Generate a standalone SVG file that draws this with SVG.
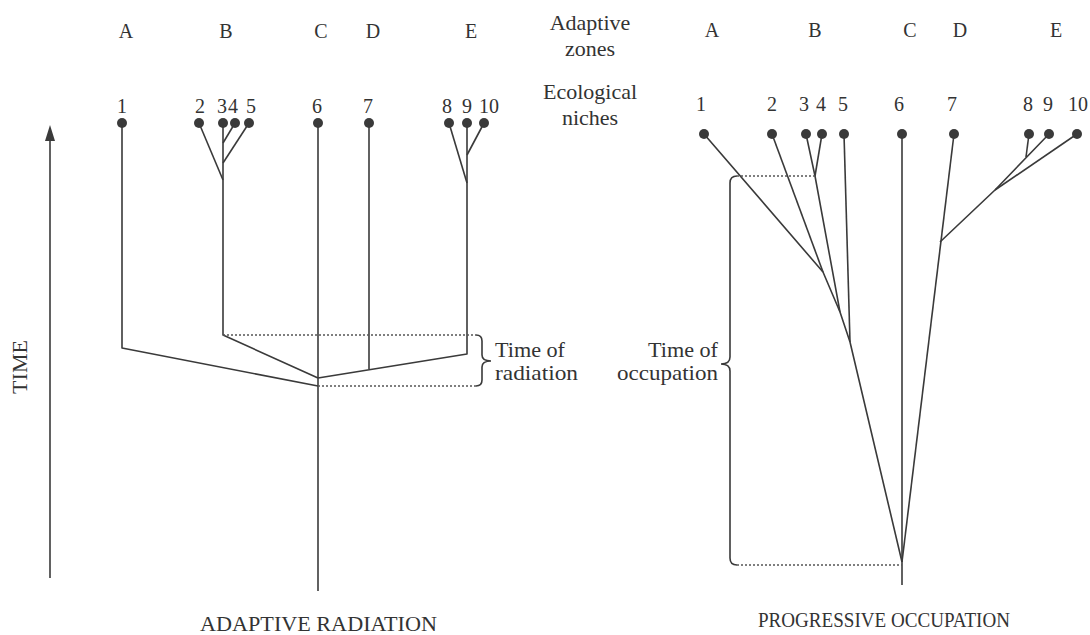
<svg xmlns="http://www.w3.org/2000/svg" width="1090" height="635" viewBox="0 0 1090 635">
<style>
text{font-family:"Liberation Serif","Times New Roman",serif;fill:#333;font-size:20px}
.big{font-size:22px}
.ln{fill:none;stroke:#3a3a3a;stroke-width:1.6;stroke-linejoin:round}
.dot{fill:#3a3a3a}
.dash{fill:none;stroke:#555;stroke-width:1.3;stroke-dasharray:2 2}
.br{fill:none;stroke:#3a3a3a;stroke-width:1.6}
.mid{text-anchor:middle}
</style>
<rect width="1090" height="635" fill="#fff"/>

<g id="time-axis">
<line x1="50" y1="578" x2="50" y2="140" class="ln"/>
<path d="M50 125 L55 141 L45 141 Z" fill="#3a3a3a"/>
<text transform="translate(27,367) rotate(-90)" class="mid big">TIME</text>
</g>

<g id="legend">
<text x="590" y="30" class="mid big">Adaptive</text>
<text x="590" y="56" class="mid big">zones</text>
<text x="590" y="99" class="mid big">Ecological</text>
<text x="590" y="125" class="mid big">niches</text>
</g>

<g id="left-zones">
<text x="126" y="38" class="mid">A</text>
<text x="226" y="38" class="mid">B</text>
<text x="321" y="38" class="mid">C</text>
<text x="373" y="38" class="mid">D</text>
<text x="471" y="38" class="mid">E</text>
</g>
<g id="left-niches">
<text x="122" y="113" class="mid">1</text>
<text x="200" y="113" class="mid">2</text>
<text x="222" y="113" class="mid">3</text>
<text x="233" y="113" class="mid">4</text>
<text x="251" y="113" class="mid">5</text>
<text x="317" y="113" class="mid">6</text>
<text x="368" y="113" class="mid">7</text>
<text x="447" y="113" class="mid">8</text>
<text x="467" y="113" class="mid">9</text>
<text x="489" y="113" class="mid">10</text>
<circle cx="122" cy="123" r="5" class="dot"/>
<circle cx="199" cy="123" r="5" class="dot"/>
<circle cx="223" cy="123" r="5" class="dot"/>
<circle cx="235" cy="123" r="5" class="dot"/>
<circle cx="249" cy="123" r="5" class="dot"/>
<circle cx="318" cy="123" r="5" class="dot"/>
<circle cx="369" cy="123" r="5" class="dot"/>
<circle cx="449" cy="123" r="5" class="dot"/>
<circle cx="467" cy="123" r="5" class="dot"/>
<circle cx="484" cy="123" r="5" class="dot"/>
</g>

<g id="left-connectors">
<polyline points="122,123 122,348 318,386" class="ln"/>
<polyline points="223,123 223,335 318,378" class="ln"/>
<line x1="199" y1="123" x2="223" y2="180" class="ln"/>
<line x1="235" y1="123" x2="223" y2="143" class="ln"/>
<line x1="249" y1="123" x2="223" y2="163" class="ln"/>
<line x1="318" y1="123" x2="318" y2="591" class="ln"/>
<line x1="369" y1="123" x2="369" y2="369" class="ln"/>
<polyline points="467,123 467,354 318,378" class="ln"/>
<line x1="449" y1="123" x2="467" y2="183" class="ln"/>
<line x1="484" y1="123" x2="467" y2="155" class="ln"/>
<line x1="223" y1="335" x2="476" y2="335" class="dash"/>
<line x1="318" y1="386" x2="476" y2="386" class="dash"/>
<path d="M476 335 Q482 335 482 341 L482 355 Q482 361 491 361 Q482 361 482 367 L482 380 Q482 386 476 386" class="br"/>
</g>
<g id="left-labels">
<text x="495" y="357" class="big" textLength="70" lengthAdjust="spacingAndGlyphs">Time of</text>
<text x="495" y="380" class="big" textLength="83" lengthAdjust="spacingAndGlyphs">radiation</text>
<text x="200" y="631" class="big" textLength="237" lengthAdjust="spacingAndGlyphs">ADAPTIVE RADIATION</text>
</g>

<g id="right-zones">
<text x="712" y="37" class="mid">A</text>
<text x="815" y="37" class="mid">B</text>
<text x="910" y="37" class="mid">C</text>
<text x="960" y="37" class="mid">D</text>
<text x="1056" y="37" class="mid">E</text>
</g>
<g id="right-niches">
<text x="701" y="111" class="mid">1</text>
<text x="772" y="111" class="mid">2</text>
<text x="804" y="111" class="mid">3</text>
<text x="821" y="111" class="mid">4</text>
<text x="843" y="111" class="mid">5</text>
<text x="899" y="111" class="mid">6</text>
<text x="952" y="111" class="mid">7</text>
<text x="1028" y="111" class="mid">8</text>
<text x="1048" y="111" class="mid">9</text>
<text x="1078" y="111" class="mid">10</text>
<circle cx="704" cy="134" r="5" class="dot"/>
<circle cx="772" cy="134" r="5" class="dot"/>
<circle cx="806" cy="134" r="5" class="dot"/>
<circle cx="822" cy="134" r="5" class="dot"/>
<circle cx="844" cy="134" r="5" class="dot"/>
<circle cx="902" cy="134" r="5" class="dot"/>
<circle cx="954" cy="134" r="5" class="dot"/>
<circle cx="1029" cy="134" r="5" class="dot"/>
<circle cx="1049" cy="134" r="5" class="dot"/>
<circle cx="1077" cy="134" r="5" class="dot"/>
</g>

<g id="right-connectors">
<polyline points="704,134 823,272 840,312 850,342 902,562" class="ln"/>
<line x1="772" y1="134" x2="823" y2="272" class="ln"/>
<polyline points="806,134 815,176 840,312" class="ln"/>
<line x1="822" y1="134" x2="815" y2="176" class="ln"/>
<line x1="844" y1="134" x2="850" y2="342" class="ln"/>
<line x1="902" y1="134" x2="902" y2="585" class="ln"/>
<line x1="954" y1="134" x2="902" y2="562" class="ln"/>
<polyline points="1049,134 995,190 940,242" class="ln"/>
<line x1="1029" y1="134" x2="1026" y2="157" class="ln"/>
<line x1="1077" y1="134" x2="995" y2="190" class="ln"/>
<line x1="737" y1="176" x2="815" y2="176" class="dash"/>
<line x1="737" y1="565" x2="902" y2="565" class="dash"/>
<path d="M737 176 Q730 176 730 183 L730 357 Q730 364 721 364 Q730 364 730 371 L730 558 Q730 565 737 565" class="br"/>
</g>
<g id="right-labels">
<text x="718" y="357" class="big" text-anchor="end" textLength="70" lengthAdjust="spacingAndGlyphs">Time of</text>
<text x="718" y="380" class="big" text-anchor="end" textLength="101" lengthAdjust="spacingAndGlyphs">occupation</text>
<text x="758" y="627" class="big" textLength="252" lengthAdjust="spacingAndGlyphs">PROGRESSIVE OCCUPATION</text>
</g>
</svg>
